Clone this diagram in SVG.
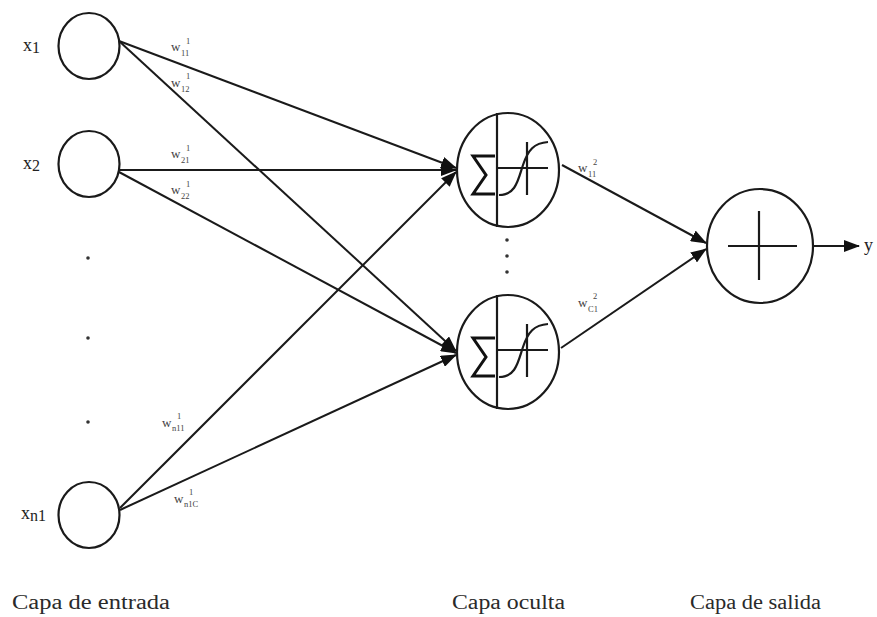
<svg xmlns="http://www.w3.org/2000/svg" width="877" height="617" viewBox="0 0 877 617">
<defs>
<style>
.n{fill:none;stroke:#1a1a1a;stroke-width:2.2}
.c{fill:none;stroke:#1a1a1a;stroke-width:2}
.in{font-family:"Liberation Serif",serif;font-size:18px;fill:#222}
.w{font-family:"Liberation Serif",serif;font-size:13px;fill:#444}
.s{font-family:"Liberation Serif",serif;font-size:8.5px;fill:#444}
.cap{font-family:"Liberation Serif",serif;font-size:20px;fill:#2a2a2a}
.dot{fill:#333}
</style>
<marker id="ah" markerWidth="16" markerHeight="12" refX="15" refY="6" orient="auto" markerUnits="userSpaceOnUse">
<path d="M0,0 L16,6 L0,12 Z" fill="#111"/>
</marker>
<g id="hid">
<ellipse cx="0" cy="0" rx="51" ry="57" class="n"/>
<line x1="-11" y1="-57" x2="-11" y2="57" class="n"/>
<path d="M-13,-14 L-35,-14 L-22,5 L-35,24 L-13,24" fill="none" stroke="#111" stroke-width="3"/>
<line x1="-11" y1="-2" x2="40" y2="-2" class="n"/>
<line x1="19" y1="-28" x2="19" y2="25" class="n"/>
<path d="M-9,25 C8,25 10,10 15,-5 C20,-20 26,-27 40,-28" class="n"/>
</g>
</defs>
<rect width="877" height="617" fill="#ffffff"/>

<g id="connectors">
<line x1="119" y1="41" x2="456" y2="168" class="c" marker-end="url(#ah)"/>
<line x1="119" y1="41" x2="456" y2="351" class="c" marker-end="url(#ah)"/>
<line x1="119" y1="170" x2="456" y2="170" class="c" stroke-width="3" marker-end="url(#ah)"/>
<line x1="119" y1="172" x2="456" y2="353" class="c" marker-end="url(#ah)"/>
<line x1="120" y1="508" x2="456" y2="172" class="c" marker-end="url(#ah)"/>
<line x1="120" y1="510" x2="456" y2="355" class="c" marker-end="url(#ah)"/>
<line x1="562" y1="165" x2="706" y2="243" class="c" marker-end="url(#ah)"/>
<line x1="561" y1="348" x2="706" y2="249" class="c" marker-end="url(#ah)"/>
<line x1="813" y1="246" x2="859" y2="246" class="c" marker-end="url(#ah)"/>
</g>

<g id="x1">
<ellipse cx="89" cy="46" rx="30.5" ry="33" class="n"/>
<text x="23" y="51" class="in">x<tspan font-size="16" dy="2">1</tspan></text>
</g>
<g id="x2">
<ellipse cx="89" cy="164" rx="30.5" ry="33" class="n"/>
<text x="23" y="169" class="in">x<tspan font-size="16" dy="2">2</tspan></text>
</g>
<g id="xn1">
<ellipse cx="89" cy="515" rx="30.5" ry="33" class="n"/>
<text x="21" y="519" class="in">x<tspan font-size="16" dy="2">n1</tspan></text>
</g>
<g id="input-dots">
<circle cx="88" cy="258" r="1.8" class="dot"/>
<circle cx="88" cy="338" r="1.8" class="dot"/>
<circle cx="88" cy="422" r="1.8" class="dot"/>
</g>

<g id="h1"><use href="#hid" x="508" y="170"/></g>
<g id="h2"><use href="#hid" x="508" y="352"/></g>
<g id="hidden-dots">
<circle cx="507" cy="240" r="1.8" class="dot"/>
<circle cx="507" cy="256" r="1.8" class="dot"/>
<circle cx="507" cy="272" r="1.8" class="dot"/>
</g>

<g id="out">
<ellipse cx="760" cy="246" rx="53" ry="57" class="n"/>
<line x1="728" y1="246" x2="797" y2="246" class="n"/>
<line x1="759" y1="211" x2="759" y2="280" class="n"/>
<text x="864" y="251" class="in" font-size="16">y</text>
</g>

<g id="weights">
<text x="171" y="51" class="w">w</text><text x="186" y="44" class="s">1</text><text x="181" y="56" class="s">11</text>
<text x="171" y="87" class="w">w</text><text x="186" y="79" class="s">1</text><text x="181" y="92" class="s">12</text>
<text x="171" y="158" class="w">w</text><text x="186" y="151" class="s">1</text><text x="181" y="163" class="s">21</text>
<text x="171" y="194" class="w">w</text><text x="186" y="187" class="s">1</text><text x="181" y="199" class="s">22</text>
<text x="162" y="427" class="w">w</text><text x="177" y="419" class="s">1</text><text x="172" y="431" class="s">n11</text>
<text x="174" y="503" class="w">w</text><text x="189" y="495" class="s">1</text><text x="184" y="507" class="s">n1C</text>
<text x="578" y="172" class="w">w</text><text x="593" y="165" class="s">2</text><text x="588" y="177" class="s">11</text>
<text x="578" y="307" class="w">w</text><text x="593" y="299" class="s">2</text><text x="588" y="312" class="s">C1</text>
</g>

<g id="captions">
<text x="12" y="609" class="cap" textLength="158" lengthAdjust="spacingAndGlyphs">Capa de entrada</text>
<text x="452" y="609" class="cap" textLength="113" lengthAdjust="spacingAndGlyphs">Capa oculta</text>
<text x="690" y="609" class="cap" textLength="131" lengthAdjust="spacingAndGlyphs">Capa de salida</text>
</g>
</svg>
